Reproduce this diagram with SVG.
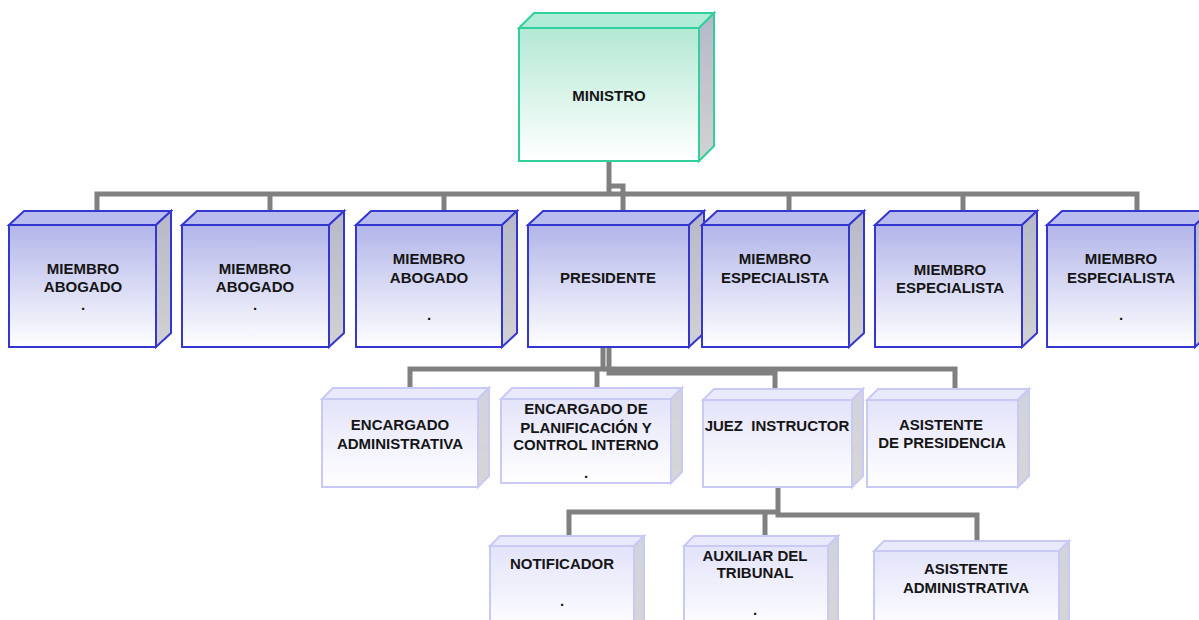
<svg xmlns="http://www.w3.org/2000/svg" width="1199" height="620" viewBox="0 0 1199 620">
  <style>
    .conn { fill: none; stroke: #808080; stroke-width: 5; stroke-linejoin: miter; }
    .lbl { font-family: "Liberation Sans", Arial, sans-serif; font-size: 15px; font-weight: bold; fill: #151515; text-anchor: middle; }
    .t0 .front { fill: url(#gFront0); }
    .t0 .top { fill: #b2ecd9; }
    .t0 .side { fill: url(#gSide); }
    .t0 polygon, .t0 rect { stroke: #2fd09e; stroke-width: 2; stroke-linejoin: miter; }
    .t1 .front { fill: url(#gFront1); }
    .t1 .top { fill: #b9bcee; }
    .t1 .side { fill: url(#gSide); }
    .t1 polygon, .t1 rect { stroke: #3535d0; stroke-width: 2; stroke-linejoin: miter; }
    .t2 .front { fill: url(#gFront2); }
    .t2 .top { fill: #e9e9fc; }
    .t2 .side { fill: url(#gSide2); }
    .t2 polygon, .t2 rect { stroke: #c9c9f6; stroke-width: 2; stroke-linejoin: miter; }
  </style>
  <defs>
    <linearGradient id="gFront0" x1="0" y1="0" x2="0" y2="1">
      <stop offset="0" stop-color="#b4e9d4"/>
      <stop offset="1" stop-color="#ffffff"/>
    </linearGradient>
    <linearGradient id="gFront1" x1="0" y1="0" x2="0" y2="1">
      <stop offset="0" stop-color="#b2b5e9"/>
      <stop offset="1" stop-color="#ffffff"/>
    </linearGradient>
    <linearGradient id="gFront2" x1="0" y1="0" x2="0" y2="1">
      <stop offset="0" stop-color="#e3e3fa"/>
      <stop offset="1" stop-color="#ffffff"/>
    </linearGradient>
    <linearGradient id="gSide" x1="0" y1="0" x2="0" y2="1">
      <stop offset="0" stop-color="#b6b8c8"/>
      <stop offset="1" stop-color="#d2d2d2"/>
    </linearGradient>
    <linearGradient id="gSide2" x1="0" y1="0" x2="0" y2="1">
      <stop offset="0" stop-color="#d2d2dc"/>
      <stop offset="1" stop-color="#d6d6d6"/>
    </linearGradient>
  </defs>

  <!-- connectors -->
  <g id="connectors">
    <path class="conn" d="M97,211 V194 H1137 V211"/>
    <path class="conn" d="M270,194 V211"/>
    <path class="conn" d="M444,194 V211"/>
    <path class="conn" d="M789,194 V211"/>
    <path class="conn" d="M963,194 V211"/>
    <path class="conn" d="M609,161 V194"/>
    <path class="conn" d="M609,186 H623 V211"/>
    <path class="conn" d="M603,347 V369 H410 V390"/>
    <path class="conn" d="M597,369 V390"/>
    <path class="conn" d="M603,369 H955 V390"/>
    <path class="conn" d="M609,347 V373 H775 V390"/>
    <path class="conn" d="M778,487 V512 H569 V537"/>
    <path class="conn" d="M765,512 V537"/>
    <path class="conn" d="M778,512 V515 H977 V542"/>
  </g>

  <!-- top level -->
  <g id="ministro" class="t0">
    <polygon class="top" points="519,28 534,13 714,13 699,28"/>
    <polygon class="side" points="699,28 714,13 714,146 699,161"/>
    <rect class="front" x="519" y="28" width="180" height="133"/>
    <text class="lbl" x="609" y="101">MINISTRO</text>
  </g>

  <!-- board members -->
  <g id="miembro-abogado-1" class="t1">
    <polygon class="top" points="9,225 24,211 171,211 156,225"/>
    <polygon class="side" points="156,225 171,211 171,333 156,347"/>
    <rect class="front" x="9" y="225" width="147" height="122"/>
    <text class="lbl" x="83" y="274">MIEMBRO</text>
    <text class="lbl" x="83" y="292">ABOGADO</text>
    <text class="lbl" x="83" y="310">.</text>
  </g>
  <g id="miembro-abogado-2" class="t1">
    <polygon class="top" points="182,225 197,211 344,211 329,225"/>
    <polygon class="side" points="329,225 344,211 344,333 329,347"/>
    <rect class="front" x="182" y="225" width="147" height="122"/>
    <text class="lbl" x="255" y="274">MIEMBRO</text>
    <text class="lbl" x="255" y="292">ABOGADO</text>
    <text class="lbl" x="255" y="310">.</text>
  </g>
  <g id="miembro-abogado-3" class="t1">
    <polygon class="top" points="356,225 371,211 517,211 502,225"/>
    <polygon class="side" points="502,225 517,211 517,333 502,347"/>
    <rect class="front" x="356" y="225" width="146" height="122"/>
    <text class="lbl" x="429" y="264">MIEMBRO</text>
    <text class="lbl" x="429" y="283">ABOGADO</text>
    <text class="lbl" x="429" y="320">.</text>
  </g>
  <g id="presidente" class="t1">
    <polygon class="top" points="528,225 543,211 704,211 689,225"/>
    <polygon class="side" points="689,225 704,211 704,333 689,347"/>
    <rect class="front" x="528" y="225" width="161" height="122"/>
    <text class="lbl" x="608" y="283">PRESIDENTE</text>
  </g>
  <g id="miembro-especialista-1" class="t1">
    <polygon class="top" points="702,225 717,211 864,211 849,225"/>
    <polygon class="side" points="849,225 864,211 864,333 849,347"/>
    <rect class="front" x="702" y="225" width="147" height="122"/>
    <text class="lbl" x="775" y="264">MIEMBRO</text>
    <text class="lbl" x="775" y="283">ESPECIALISTA</text>
  </g>
  <g id="miembro-especialista-2" class="t1">
    <polygon class="top" points="875,225 890,211 1037,211 1022,225"/>
    <polygon class="side" points="1022,225 1037,211 1037,333 1022,347"/>
    <rect class="front" x="875" y="225" width="147" height="122"/>
    <text class="lbl" x="950" y="275">MIEMBRO</text>
    <text class="lbl" x="950" y="293">ESPECIALISTA</text>
  </g>
  <g id="miembro-especialista-3" class="t1">
    <polygon class="top" points="1047,225 1062,211 1210,211 1195,225"/>
    <polygon class="side" points="1195,225 1210,211 1210,333 1195,347"/>
    <rect class="front" x="1047" y="225" width="148" height="122"/>
    <text class="lbl" x="1121" y="264">MIEMBRO</text>
    <text class="lbl" x="1121" y="283">ESPECIALISTA</text>
    <text class="lbl" x="1121" y="320">.</text>
  </g>

  <!-- presidency units -->
  <g id="encargado-administrativa" class="t2">
    <polygon class="top" points="322,399 333,388 489,388 478,399"/>
    <polygon class="side" points="478,399 489,388 489,476 478,487"/>
    <rect class="front" x="322" y="399" width="156" height="88"/>
    <text class="lbl" x="400" y="430">ENCARGADO</text>
    <text class="lbl" x="400" y="449">ADMINISTRATIVA</text>
  </g>
  <g id="encargado-planificacion" class="t2">
    <polygon class="top" points="501,399 512,388 682,388 671,399"/>
    <polygon class="side" points="671,399 682,388 682,472 671,483"/>
    <rect class="front" x="501" y="399" width="170" height="84"/>
    <text class="lbl" x="586" y="414">ENCARGADO DE</text>
    <text class="lbl" x="586" y="433">PLANIFICACIÓN Y</text>
    <text class="lbl" x="586" y="450">CONTROL INTERNO</text>
    <text class="lbl" x="586" y="478">.</text>
  </g>
  <g id="juez-instructor" class="t2">
    <polygon class="top" points="703,400 714,389 863,389 852,400"/>
    <polygon class="side" points="852,400 863,389 863,476 852,487"/>
    <rect class="front" x="703" y="400" width="149" height="87"/>
    <text class="lbl" x="777" y="431" xml:space="preserve">JUEZ  INSTRUCTOR</text>
  </g>
  <g id="asistente-presidencia" class="t2">
    <polygon class="top" points="867,400 878,389 1029,389 1018,400"/>
    <polygon class="side" points="1018,400 1029,389 1029,476 1018,487"/>
    <rect class="front" x="867" y="400" width="151" height="87"/>
    <text class="lbl" x="941" y="430">ASISTENTE</text>
    <text class="lbl" x="942" y="448">DE PRESIDENCIA</text>
  </g>

  <!-- instruction staff -->
  <g id="notificador" class="t2">
    <polygon class="top" points="490,546 500,536 644,536 634,546"/>
    <polygon class="side" points="634,546 644,536 644,622 634,632"/>
    <rect class="front" x="490" y="546" width="144" height="86"/>
    <text class="lbl" x="562" y="569">NOTIFICADOR</text>
    <text class="lbl" x="562" y="606">.</text>
  </g>
  <g id="auxiliar-tribunal" class="t2">
    <polygon class="top" points="684,546 694,536 838,536 828,546"/>
    <polygon class="side" points="828,546 838,536 838,622 828,632"/>
    <rect class="front" x="684" y="546" width="144" height="86"/>
    <text class="lbl" x="755" y="561">AUXILIAR DEL</text>
    <text class="lbl" x="755" y="578">TRIBUNAL</text>
    <text class="lbl" x="755" y="615">.</text>
  </g>
  <g id="asistente-administrativa" class="t2">
    <polygon class="top" points="874,551 884,541 1069,541 1059,551"/>
    <polygon class="side" points="1059,551 1069,541 1069,622 1059,632"/>
    <rect class="front" x="874" y="551" width="185" height="81"/>
    <text class="lbl" x="966" y="574">ASISTENTE</text>
    <text class="lbl" x="966" y="593">ADMINISTRATIVA</text>
  </g>
</svg>
